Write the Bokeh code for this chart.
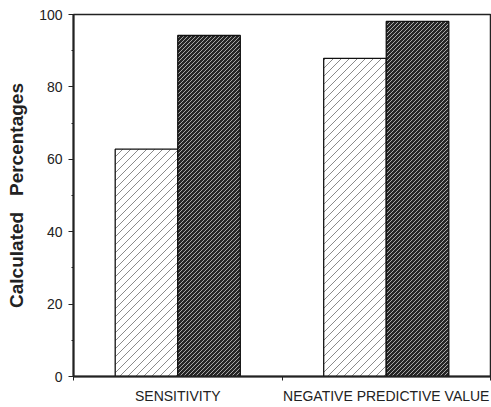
import base64
from bokeh.plotting import figure
from bokeh.models import ColumnDataSource, FixedTicker, Range1d, ImageURLTexture
from bokeh.core.properties import value
from bokeh.transform import dodge
from bokeh.embed import file_html
from bokeh.resources import INLINE

categories = ["SENSITIVITY", "NEGATIVE PREDICTIVE VALUE"]
series_a = [62.8, 87.9]   # light hatched bars
series_b = [94.2, 98.1]   # dark hatched bars
y_ticks = [0, 20, 40, 60, 80, 100]
y_minor = [10, 30, 50, 70, 90]

centers = [i + 0.5 for i in range(len(categories))]
source = ColumnDataSource(dict(x=centers, a=series_a, b=series_b))


def slash_tile(size, color, weight):
    s = size
    svg = (f"<svg xmlns='http://www.w3.org/2000/svg' width='{s}' height='{s}'>"
           f"<path d='M0,{s} L{s},0 M-1,1 L1,-1 M{s-1},{s+1} L{s+1},{s-1}' "
           f"stroke='{color}' stroke-width='{weight}' fill='none'/></svg>")
    return "data:image/svg+xml;base64," + base64.b64encode(svg.encode()).decode()


light_tex = ImageURLTexture(url=slash_tile(8, "#8a8a8a", 1), repetition="repeat")
dark_tex = ImageURLTexture(url=slash_tile(4, "#a8a8a8", 1), repetition="repeat")

p = figure(width=491, height=406, output_backend="svg", toolbar_location=None,
           x_range=Range1d(0, len(categories)), y_range=Range1d(0, 100),
           min_border_left=73, min_border_right=1, min_border_top=14, min_border_bottom=29)

p.vbar(x=dodge("x", -0.15, range=p.x_range), top="a", width=0.3, source=source,
       fill_color="white", line_color="#111111", line_width=1.3,
       hatch_pattern=value("lt"), hatch_extra={"lt": light_tex})
p.vbar(x=dodge("x", 0.15, range=p.x_range), top="b", width=0.3, source=source,
       fill_color="#262626", line_color="#111111", line_width=1.3,
       hatch_pattern=value("dk"), hatch_extra={"dk": dark_tex})

p.xgrid.visible = False
p.ygrid.visible = False
p.outline_line_color = "#222222"
p.outline_line_width = 1.5
p.background_fill_color = "white"

# y axis
p.yaxis.ticker = FixedTicker(ticks=y_ticks, minor_ticks=y_minor)
p.yaxis.axis_line_width = 2
p.yaxis.axis_line_color = "#222222"
p.yaxis.major_tick_out = 5
p.yaxis.major_tick_in = 0
p.yaxis.minor_tick_out = 2
p.yaxis.minor_tick_in = 0
p.yaxis.major_tick_line_color = "#222222"
p.yaxis.minor_tick_line_color = "#222222"
p.yaxis.major_label_text_font = "Liberation Sans"
p.yaxis.major_label_text_font_size = "14px"
p.yaxis.major_label_text_color = "#222222"
p.yaxis.major_label_standoff = 6
p.yaxis.axis_label = "Calculated\u00a0\u00a0\u00a0Percentages"
p.yaxis.axis_label_text_font = "Liberation Sans"
p.yaxis.axis_label_text_font_style = "bold"
p.yaxis.axis_label_text_font_size = "19px"
p.yaxis.axis_label_text_color = "#222222"
p.yaxis.axis_label_standoff = 9

# x axis
p.xaxis.ticker = FixedTicker(ticks=centers, minor_ticks=[0, 1, 2])
p.xaxis.major_label_overrides = {c: lab for c, lab in zip(centers, categories)}
p.xaxis.axis_line_width = 2
p.xaxis.axis_line_color = "#222222"
p.xaxis.major_tick_line_color = None
p.xaxis.major_tick_out = 0
p.xaxis.major_tick_in = 0
p.xaxis.minor_tick_out = 4
p.xaxis.minor_tick_in = 0
p.xaxis.minor_tick_line_color = "#222222"
p.xaxis.major_label_text_font = "Liberation Sans"
p.xaxis.major_label_text_font_size = "14px"
p.xaxis.major_label_text_color = "#222222"
p.xaxis.major_label_standoff = 7

open("out.html", "w").write(file_html(p, INLINE))
